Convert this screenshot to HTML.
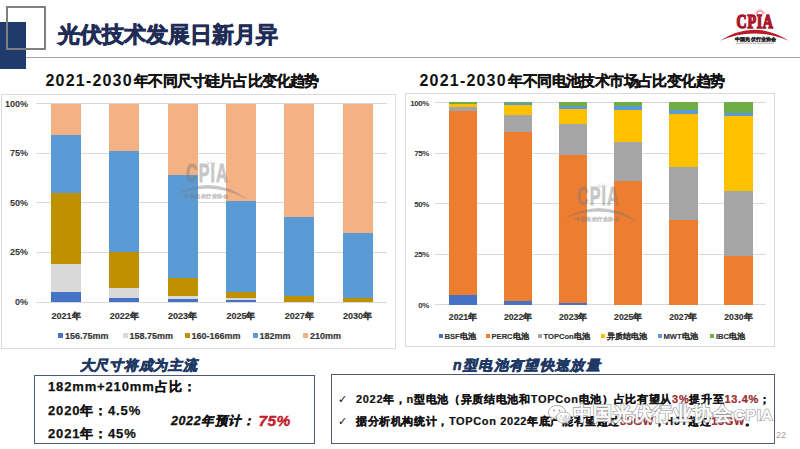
<!DOCTYPE html>
<html><head><meta charset="utf-8">
<style>
*{margin:0;padding:0;box-sizing:border-box}
html,body{width:800px;height:449px;overflow:hidden;background:#fff;font-family:"Liberation Sans",sans-serif}
.a{position:absolute}
.b{position:absolute}
.g{position:absolute;height:1px;background:#D9D9D9}
.yl{position:absolute;font-size:9px;font-weight:bold;color:#333;line-height:12px;text-align:right;white-space:nowrap}
.xl{position:absolute;width:60px;text-align:center;font-size:9px;font-weight:bold;color:#333;-webkit-text-stroke:0.15px #333;line-height:12px;white-space:nowrap}
.lg{position:absolute;font-size:9px;font-weight:bold;color:#333;-webkit-text-stroke:0.15px #333;line-height:12px;white-space:nowrap}
.mk{display:inline-block;width:5px;height:5px;margin-right:2px;vertical-align:1px}
.box{position:absolute;border:1px solid #DADADA}
.t1{position:absolute;font-size:16px;font-weight:bold;color:#111;line-height:20px;white-space:nowrap}
</style></head><body>
<!-- header -->
<div class="a" style="left:0;top:21.7px;width:26px;height:47px;background:#1F3A6C"></div>
<div class="a" style="left:6.3px;top:5.6px;width:39.8px;height:44px;border:2.7px solid #7F7F7F"></div>
<div class="a" style="left:26px;top:57px;width:774px;height:1.3px;background:#A6A6A6"></div>
<div class="a" style="left:57.5px;top:20.6px;font-size:22px;font-weight:bold;color:#1F2D56;line-height:28px;white-space:nowrap;letter-spacing:0.1px;-webkit-text-stroke:0.8px #1F2D56">光伏技术发展日新月异</div>

<svg class="a" style="left:710px;top:0;width:90px;height:50px" width="90" height="50" viewBox="0 0 90 50">
<defs><linearGradient id="lgr" x1="0" y1="0" x2="0" y2="1"><stop offset="0" stop-color="#C8282E"/><stop offset="1" stop-color="#9A0E22"/></linearGradient></defs>
<g fill="#D86A78" opacity="0.85"><path d="M47.71 13.06 L43.98 12.70 L47.44 14.13Z M48.21 12.37 L44.81 10.81 L47.61 13.29Z M48.90 11.89 L46.20 9.30 L48.03 12.56Z M49.72 11.66 L48.02 8.32 L48.68 12.01Z M50.57 11.70 L50.05 8.00 L49.47 11.70Z M51.36 12.03 L52.08 8.36 L50.32 11.66Z M51.99 12.59 L53.88 9.36 L51.14 11.91Z M52.41 13.34 L55.25 10.90 L51.82 12.40Z M52.56 14.17 L56.04 12.81 L52.31 13.10Z "/></g>
<text x="26.6" y="28.1" font-family="Liberation Serif" font-weight="bold" font-size="19" fill="url(#lgr)" transform="translate(26.6 0) scale(0.74 1) translate(-26.6 0)" letter-spacing="0.9" stroke="#A8142A" stroke-width="1.5">CPIA</text>
<path d="M10 40.8 Q44 18.5 78.75 40.8 Q44 26 10 40.8Z" fill="#B81C2A"/>
<text x="25.3" y="40.8" font-family="Liberation Sans" font-weight="bold" font-size="4.6" fill="#222" stroke="#222" stroke-width="0.25" letter-spacing="0.1">中国光伏行业协会</text>
<rect x="26" y="42.6" width="38" height="1.2" fill="#BBB"/>
</svg>
<!-- chart titles -->
<div class="t1" style="left:45.5px;top:71.3px"><span style="letter-spacing:1.2px">2021-2030</span><span style="letter-spacing:-0.85px;margin-left:1.5px;font-size:14.5px;-webkit-text-stroke:0.25px #111">年不同尺寸硅片占比变化趋势</span></div>
<div class="t1" style="left:419.5px;top:71.3px"><span style="letter-spacing:1.2px">2021-2030</span><span style="letter-spacing:-0.6px;margin-left:1.5px;font-size:14.5px;-webkit-text-stroke:0.25px #111">年不同电池技术市场占比变化趋势</span></div>

<div class="box" style="left:0.5px;top:93.5px;width:395px;height:255px"></div>
<div class="box" style="left:405px;top:93px;width:369.5px;height:254px"></div>

<div class="g" style="left:35.5px;top:301.50px;width:351.5px"></div>
<div class="g" style="left:35.5px;top:251.88px;width:351.5px"></div>
<div class="g" style="left:35.5px;top:202.25px;width:351.5px"></div>
<div class="g" style="left:35.5px;top:152.62px;width:351.5px"></div>
<div class="g" style="left:35.5px;top:103.00px;width:351.5px"></div>
<div class="b" style="left:51.00px;top:103.50px;width:30px;height:198.50px;background:#F4B183"></div>
<div class="b" style="left:51.00px;top:135.26px;width:30px;height:166.74px;background:#5B9BD5"></div>
<div class="b" style="left:51.00px;top:192.82px;width:30px;height:109.18px;background:#BF9000"></div>
<div class="b" style="left:51.00px;top:264.28px;width:30px;height:37.72px;background:#D9D9D9"></div>
<div class="b" style="left:51.00px;top:292.07px;width:30px;height:9.93px;background:#4472C4"></div>
<div class="b" style="left:109.30px;top:103.50px;width:30px;height:198.50px;background:#F4B183"></div>
<div class="b" style="left:109.30px;top:151.14px;width:30px;height:150.86px;background:#5B9BD5"></div>
<div class="b" style="left:109.30px;top:252.38px;width:30px;height:49.62px;background:#BF9000"></div>
<div class="b" style="left:109.30px;top:288.11px;width:30px;height:13.89px;background:#D9D9D9"></div>
<div class="b" style="left:109.30px;top:298.03px;width:30px;height:3.97px;background:#4472C4"></div>
<div class="b" style="left:167.60px;top:103.50px;width:30px;height:198.50px;background:#F4B183"></div>
<div class="b" style="left:167.60px;top:174.96px;width:30px;height:127.04px;background:#5B9BD5"></div>
<div class="b" style="left:167.60px;top:278.18px;width:30px;height:23.82px;background:#BF9000"></div>
<div class="b" style="left:167.60px;top:296.05px;width:30px;height:5.95px;background:#D9D9D9"></div>
<div class="b" style="left:167.60px;top:299.42px;width:30px;height:2.58px;background:#4472C4"></div>
<div class="b" style="left:225.90px;top:103.50px;width:30px;height:198.50px;background:#F4B183"></div>
<div class="b" style="left:225.90px;top:200.76px;width:30px;height:101.24px;background:#5B9BD5"></div>
<div class="b" style="left:225.90px;top:292.07px;width:30px;height:9.93px;background:#BF9000"></div>
<div class="b" style="left:225.90px;top:298.03px;width:30px;height:3.97px;background:#D9D9D9"></div>
<div class="b" style="left:225.90px;top:300.01px;width:30px;height:1.99px;background:#4472C4"></div>
<div class="b" style="left:284.20px;top:103.50px;width:30px;height:198.50px;background:#F4B183"></div>
<div class="b" style="left:284.20px;top:216.64px;width:30px;height:85.36px;background:#5B9BD5"></div>
<div class="b" style="left:284.20px;top:296.05px;width:30px;height:5.95px;background:#BF9000"></div>
<div class="b" style="left:342.50px;top:103.50px;width:30px;height:198.50px;background:#F4B183"></div>
<div class="b" style="left:342.50px;top:232.53px;width:30px;height:69.47px;background:#5B9BD5"></div>
<div class="b" style="left:342.50px;top:298.03px;width:30px;height:3.97px;background:#BF9000"></div>
<div class="yl" style="right:772px;top:296.00px">0%</div>
<div class="yl" style="right:772px;top:246.38px">25%</div>
<div class="yl" style="right:772px;top:196.75px">50%</div>
<div class="yl" style="right:772px;top:147.12px">75%</div>
<div class="yl" style="right:772px;top:97.50px">100%</div>
<div class="xl" style="left:36.00px;top:310px">2021年</div>
<div class="xl" style="left:94.30px;top:310px">2022年</div>
<div class="xl" style="left:152.60px;top:310px">2023年</div>
<div class="xl" style="left:210.90px;top:310px">2025年</div>
<div class="xl" style="left:269.20px;top:310px">2027年</div>
<div class="xl" style="left:327.50px;top:310px">2030年</div>
<div class="g" style="left:435.0px;top:304.30px;width:330.6px"></div>
<div class="g" style="left:435.0px;top:253.70px;width:330.6px"></div>
<div class="g" style="left:435.0px;top:203.10px;width:330.6px"></div>
<div class="g" style="left:435.0px;top:152.50px;width:330.6px"></div>
<div class="g" style="left:435.0px;top:101.90px;width:330.6px"></div>
<div class="b" style="left:448.80px;top:102.40px;width:28.4px;height:202.40px;background:#70AD47"></div>
<div class="b" style="left:448.80px;top:103.61px;width:28.4px;height:201.19px;background:#5B9BD5"></div>
<div class="b" style="left:448.80px;top:104.42px;width:28.4px;height:200.38px;background:#FFC000"></div>
<div class="b" style="left:448.80px;top:107.46px;width:28.4px;height:197.34px;background:#A5A5A5"></div>
<div class="b" style="left:448.80px;top:110.50px;width:28.4px;height:194.30px;background:#ED7D31"></div>
<div class="b" style="left:448.80px;top:294.68px;width:28.4px;height:10.12px;background:#4472C4"></div>
<div class="b" style="left:503.88px;top:102.40px;width:28.4px;height:202.40px;background:#70AD47"></div>
<div class="b" style="left:503.88px;top:103.41px;width:28.4px;height:201.39px;background:#5B9BD5"></div>
<div class="b" style="left:503.88px;top:104.83px;width:28.4px;height:199.97px;background:#FFC000"></div>
<div class="b" style="left:503.88px;top:114.54px;width:28.4px;height:190.26px;background:#A5A5A5"></div>
<div class="b" style="left:503.88px;top:131.95px;width:28.4px;height:172.85px;background:#ED7D31"></div>
<div class="b" style="left:503.88px;top:300.75px;width:28.4px;height:4.05px;background:#4472C4"></div>
<div class="b" style="left:558.96px;top:102.40px;width:28.4px;height:202.40px;background:#70AD47"></div>
<div class="b" style="left:558.96px;top:106.45px;width:28.4px;height:198.35px;background:#5B9BD5"></div>
<div class="b" style="left:558.96px;top:109.08px;width:28.4px;height:195.72px;background:#FFC000"></div>
<div class="b" style="left:558.96px;top:123.65px;width:28.4px;height:181.15px;background:#A5A5A5"></div>
<div class="b" style="left:558.96px;top:155.02px;width:28.4px;height:149.78px;background:#ED7D31"></div>
<div class="b" style="left:558.96px;top:302.78px;width:28.4px;height:2.02px;background:#4472C4"></div>
<div class="b" style="left:614.04px;top:102.40px;width:28.4px;height:202.40px;background:#70AD47"></div>
<div class="b" style="left:614.04px;top:105.84px;width:28.4px;height:198.96px;background:#5B9BD5"></div>
<div class="b" style="left:614.04px;top:110.09px;width:28.4px;height:194.71px;background:#FFC000"></div>
<div class="b" style="left:614.04px;top:141.87px;width:28.4px;height:162.93px;background:#A5A5A5"></div>
<div class="b" style="left:614.04px;top:181.34px;width:28.4px;height:123.46px;background:#ED7D31"></div>
<div class="b" style="left:669.12px;top:102.40px;width:28.4px;height:202.40px;background:#70AD47"></div>
<div class="b" style="left:669.12px;top:109.89px;width:28.4px;height:194.91px;background:#5B9BD5"></div>
<div class="b" style="left:669.12px;top:113.53px;width:28.4px;height:191.27px;background:#FFC000"></div>
<div class="b" style="left:669.12px;top:166.56px;width:28.4px;height:138.24px;background:#A5A5A5"></div>
<div class="b" style="left:669.12px;top:219.79px;width:28.4px;height:85.01px;background:#ED7D31"></div>
<div class="b" style="left:724.20px;top:102.40px;width:28.4px;height:202.40px;background:#70AD47"></div>
<div class="b" style="left:724.20px;top:112.52px;width:28.4px;height:192.28px;background:#5B9BD5"></div>
<div class="b" style="left:724.20px;top:115.96px;width:28.4px;height:188.84px;background:#FFC000"></div>
<div class="b" style="left:724.20px;top:191.46px;width:28.4px;height:113.34px;background:#A5A5A5"></div>
<div class="b" style="left:724.20px;top:256.22px;width:28.4px;height:48.58px;background:#ED7D31"></div>
<div class="yl" style="right:371px;top:300.00px;font-size:8px;letter-spacing:-0.4px">0%</div>
<div class="yl" style="right:371px;top:249.40px;font-size:8px;letter-spacing:-0.4px">25%</div>
<div class="yl" style="right:371px;top:198.80px;font-size:8px;letter-spacing:-0.4px">50%</div>
<div class="yl" style="right:371px;top:148.20px;font-size:8px;letter-spacing:-0.4px">75%</div>
<div class="yl" style="right:371px;top:97.60px;font-size:8px;letter-spacing:-0.4px">100%</div>
<div class="xl" style="left:433.00px;top:311px;font-size:8.7px">2021年</div>
<div class="xl" style="left:488.08px;top:311px;font-size:8.7px">2022年</div>
<div class="xl" style="left:543.16px;top:311px;font-size:8.7px">2023年</div>
<div class="xl" style="left:598.24px;top:311px;font-size:8.7px">2025年</div>
<div class="xl" style="left:653.32px;top:311px;font-size:8.7px">2027年</div>
<div class="xl" style="left:708.40px;top:311px;font-size:8.7px">2030年</div>

<div class="lg" style="left:58px;top:330px"><span class="mk" style="background:#4472C4"></span>156.75mm</div>
<div class="lg" style="left:122.5px;top:330px"><span class="mk" style="background:#D9D9D9"></span>158.75mm</div>
<div class="lg" style="left:184.5px;top:330px"><span class="mk" style="background:#BF9000"></span>160-166mm</div>
<div class="lg" style="left:252.5px;top:330px"><span class="mk" style="background:#5B9BD5"></span>182mm</div>
<div class="lg" style="left:303px;top:330px"><span class="mk" style="background:#F4B183"></span>210mm</div>

<div class="lg" style="left:438.5px;top:330.5px;font-size:7.6px"><span class="mk" style="background:#4472C4;width:4px;height:4px"></span>BSF电池</div>
<div class="lg" style="left:485.5px;top:330.5px;font-size:7.6px"><span class="mk" style="background:#ED7D31;width:4px;height:4px"></span>PERC电池</div>
<div class="lg" style="left:537.5px;top:330.5px;font-size:7.6px"><span class="mk" style="background:#A5A5A5;width:4px;height:4px"></span>TOPCon电池</div>
<div class="lg" style="left:601px;top:330.5px;font-size:7.6px"><span class="mk" style="background:#FFC000;width:4px;height:4px"></span>异质结电池</div>
<div class="lg" style="left:657.5px;top:330.5px;font-size:7.6px"><span class="mk" style="background:#5B9BD5;width:4px;height:4px"></span>MWT电池</div>
<div class="lg" style="left:710px;top:330.5px;font-size:7.6px"><span class="mk" style="background:#70AD47;width:4px;height:4px"></span>IBC电池</div>

<svg class="a" style="left:174px;top:151.5px;width:90px;height:55px;opacity:0.42" width="90" height="55" viewBox="0 0 90 55">
<g fill="#7A7A7A">
<path d="M36.5 12 L32.5 8.5 L35 12Z M37 12 L36.5 6 L38 12Z M38 12 L41 7.5 L39 12Z M39 12 L43.5 9.5 L40 12.3Z M35.5 12.3 L30.5 10.5 L34.5 12.6Z"/>
<text x="12" y="30.2" font-family="Liberation Sans" font-weight="bold" font-size="25" transform="translate(12 0) scale(0.64 1) translate(-12 0)" letter-spacing="1.8" stroke="#7A7A7A" stroke-width="0.8">CPIA</text>
<path d="M0 43 Q38 21 73 47 Q38 28 0 43Z"/>
<text x="10" y="45.5" font-family="Liberation Sans" font-weight="bold" font-size="5.4" letter-spacing="0.5" stroke="#7A7A7A" stroke-width="0.3">中国光伏行业协会</text>
</g></svg>
<svg class="a" style="left:565.4px;top:174.8px;width:90px;height:55px;opacity:0.42" width="90" height="55" viewBox="0 0 90 55">
<g fill="#7A7A7A">
<path d="M36.5 12 L32.5 8.5 L35 12Z M37 12 L36.5 6 L38 12Z M38 12 L41 7.5 L39 12Z M39 12 L43.5 9.5 L40 12.3Z M35.5 12.3 L30.5 10.5 L34.5 12.6Z"/>
<text x="12" y="30.2" font-family="Liberation Sans" font-weight="bold" font-size="25" transform="translate(12 0) scale(0.64 1) translate(-12 0)" letter-spacing="1.8" stroke="#7A7A7A" stroke-width="0.8">CPIA</text>
<path d="M0 43 Q38 21 73 47 Q38 28 0 43Z"/>
<text x="10" y="45.5" font-family="Liberation Sans" font-weight="bold" font-size="5.4" letter-spacing="0.5" stroke="#7A7A7A" stroke-width="0.3">中国光伏行业协会</text>
</g></svg>
<!-- bottom -->
<div class="a" style="left:79.5px;top:356px;font-size:14px;font-weight:bold;font-style:italic;color:#203864;line-height:18px;white-space:nowrap;letter-spacing:0.75px;-webkit-text-stroke:0.65px #203864">大尺寸将成为主流</div>
<div class="a" style="left:34.2px;top:374.6px;width:280.6px;height:69.6px;border:1.6px solid #4C5880"></div>
<div class="a" style="left:48px;top:378.5px;font-size:13px;font-weight:bold;color:#111;line-height:16px;white-space:nowrap;letter-spacing:0.85px;-webkit-text-stroke:0.25px #111">182mm+210mm<span style="letter-spacing:1.1px">占比：</span></div>
<div class="a" style="left:48px;top:403.3px;font-size:13px;font-weight:bold;color:#111;line-height:16px;white-space:nowrap;letter-spacing:0.85px;-webkit-text-stroke:0.25px #111">2020年：4.5%</div>
<div class="a" style="left:48px;top:425.5px;font-size:13px;font-weight:bold;color:#111;line-height:16px;white-space:nowrap;letter-spacing:0.85px;-webkit-text-stroke:0.25px #111">2021年：45%</div>
<div class="a" style="left:171px;top:412px;font-size:12.5px;font-weight:bold;font-style:italic;color:#111;line-height:18px;white-space:nowrap;letter-spacing:0.6px;-webkit-text-stroke:0.35px #111">2022年预计：<span style="color:#C0202A;font-size:15.5px;letter-spacing:0.3px;margin-left:3px;vertical-align:-1px;-webkit-text-stroke:0.4px #C0202A">75%</span></div>

<div class="a" style="left:453px;top:355.5px;font-size:14px;font-weight:bold;font-style:italic;color:#203864;line-height:18px;white-space:nowrap;letter-spacing:1.35px;-webkit-text-stroke:0.65px #203864">n型电池有望快速放量</div>
<div class="a" style="left:330.5px;top:374.2px;width:444.5px;height:70px;border:1.6px solid #505A6C"></div>
<div class="a" style="left:338px;top:392px;font-size:11px;color:#111;line-height:15px">✓</div>
<div class="a" style="left:338px;top:414px;font-size:11px;color:#111;line-height:15px">✓</div>
<div class="a" style="left:356px;top:392px;font-size:11px;font-weight:bold;color:#111;line-height:15px;white-space:nowrap;letter-spacing:0.68px;-webkit-text-stroke:0.2px #111">2022年，n型电池（异质结电池和TOPCon电池）占比有望从<span style="color:#BE2A2E">3%</span>提升至<span style="color:#BE2A2E">13.4%</span>；</div>
<div class="a" style="left:356px;top:414px;font-size:11px;font-weight:bold;color:#111;line-height:15px;white-space:nowrap;letter-spacing:0.62px;-webkit-text-stroke:0.2px #111">据分析机构统计，TOPCon 2022年底产能有望超过<span style="color:#BE2A2E">35GW</span>，HJT超过<span style="color:#BE2A2E">15GW</span>。</div>
<svg class="a" style="left:547px;top:403px;width:26px;height:22px" width="26" height="22" viewBox="0 0 26 22">
<g fill="rgba(255,255,255,0.85)" stroke="#9A9A9A" stroke-width="0.8">
<path d="M10 2.5 C4.5 2.5 1.5 6 1.5 9.5 C1.5 11.8 2.8 13.6 4.5 14.6 L3.8 17 L6.6 15.6 C7.7 15.9 8.8 16 10 16 C15.5 16 18.5 12.8 18.5 9.3 C18.5 5.8 15.5 2.5 10 2.5Z"/>
<path d="M16.5 9 C12.3 9 9.5 11.6 9.5 14.6 C9.5 17.6 12.3 20.2 16.5 20.2 C17.4 20.2 18.2 20.1 19 19.8 L21.5 21 L20.9 18.9 C22.5 17.9 23.5 16.4 23.5 14.6 C23.5 11.6 20.7 9 16.5 9Z"/>
</g>
<g fill="#9A9A9A"><circle cx="7" cy="7.5" r="0.9"/><circle cx="12.5" cy="7.5" r="0.9"/><circle cx="14" cy="13" r="0.7"/><circle cx="19" cy="13" r="0.7"/></g>
</svg>
<div class="a" style="left:573px;top:403px;font-size:18.5px;color:#8A8A8A;-webkit-text-stroke:2.2px #8A8A8A;line-height:22px;white-space:nowrap;letter-spacing:1px;opacity:0.85">中国光伏行业协会<span style="font-size:14.5px;letter-spacing:1.3px;margin-left:1px">CPIA</span></div>
<div class="a" style="left:573px;top:403px;font-size:18.5px;color:#fff;-webkit-text-stroke:0.8px #fff;line-height:22px;white-space:nowrap;letter-spacing:1px">中国光伏行业协会<span style="font-size:14.5px;letter-spacing:1.3px;margin-left:1px">CPIA</span></div>
<div class="a" style="left:776px;top:429px;font-size:9px;color:#A0A0A0;line-height:12px">22</div>
</body></html>
